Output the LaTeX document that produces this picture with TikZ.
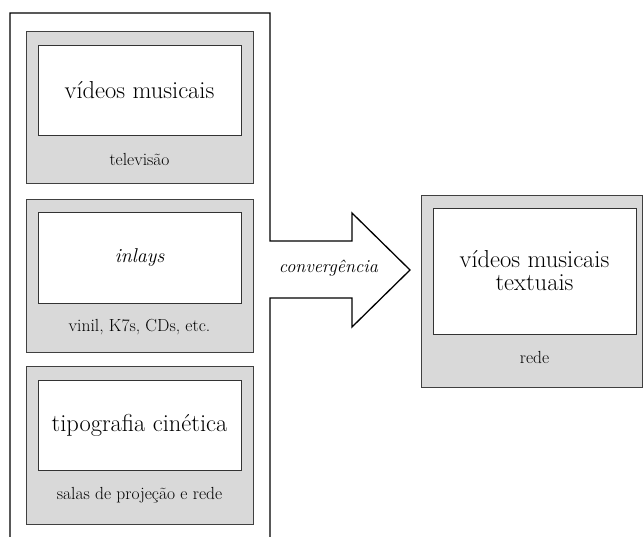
\documentclass[tikz,border=0pt]{standalone}
\usepackage{fontspec}
\begin{document}
\begin{tikzpicture}[x=1pt,y=-1pt,
  panel/.style={draw=black!75,fill=black!15,line width=0.8pt,minimum width=227pt,inner sep=0pt},
  screen/.style={draw=black!80,fill=white,line width=0.8pt,minimum width=203pt,minimum height=90pt,inner sep=0pt,align=center,font=\fontsize{24.5}{23}\selectfont},
  medium/.style={inner sep=0pt,font=\fontsize{17.5}{19}\selectfont},
  frame/.style={line width=1.3pt,draw=black,line join=miter}]
\useasboundingbox (0,0) rectangle (643,537);

% left column: three media panels
\node[panel,minimum height=152pt] (p1) at (139.5,107) {};
\node[screen] (s1) at (139.5,90) {vídeos musicais};
\node[medium] (l1) at (139.5,160) {televisão};

\node[panel,minimum height=153pt] (p2) at (139.5,275.5) {};
\node[screen,minimum height=91pt] (s2) at (139.5,257.5) {\fontsize{20}{23}\selectfont\itshape inlays};
\node[medium] (l2) at (139.5,327) {vinil, K7s, CDs, etc.};

\node[panel,minimum height=158pt] (p3) at (139.5,445) {};
\node[screen] (s3) at (139.5,425) {tipografia cinética};
\node[medium] (l3) at (139.5,495) {salas de projeção e rede};

% outer frame merging into the convergence arrow
\coordinate (fb) at (10,540);
\coordinate (ft) at (10,13);
\coordinate (rt) at (270,13);
\coordinate (ru) at (270,241);
\coordinate (su) at (352,241);
\coordinate (hu) at (352,213);
\coordinate (tip) at (410,270);
\coordinate (hd) at (352,327);
\coordinate (sd) at (352,298);
\coordinate (rd) at (270,298);
\coordinate (rb) at (270,540);
\draw[frame] (fb) -- (ft) -- (rt) -- (ru) -- (su) -- (hu) -- (tip) -- (hd) -- (sd) -- (rd) -- (rb);
\node[inner sep=0pt,font=\fontsize{18.3}{19}\selectfont\itshape] (conv) at (328.5,268) {convergência};

% result panel
\node[panel,minimum width=221pt,minimum height=192pt] (p4) at (531.5,291) {};
\node[screen,minimum height=126pt] (s4) at (534.5,271) {vídeos musicais\\textuais};
\node[medium] (l4) at (534.5,357) {rede};
\end{tikzpicture}
\end{document}
